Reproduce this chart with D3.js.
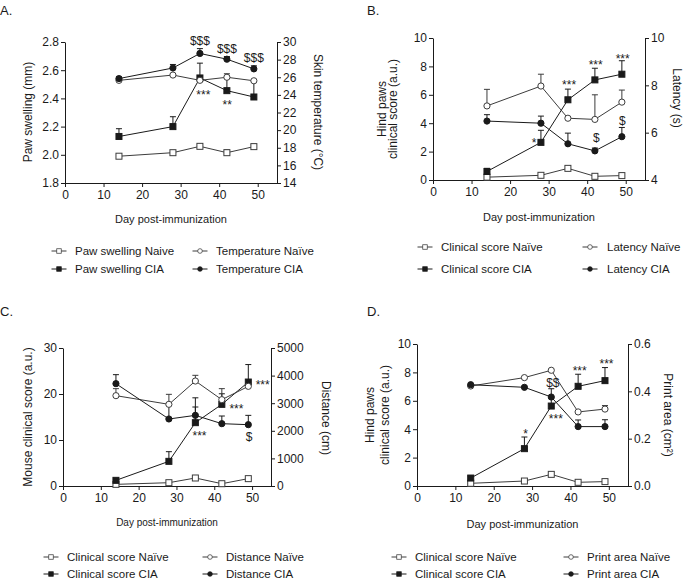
<!DOCTYPE html>
<html>
<head>
<meta charset="utf-8">
<script src="https://cdn.jsdelivr.net/npm/d3@7"></script>
<style>
body { margin: 0; background: #fff; }
svg text { font-family: "Liberation Sans", Arial, sans-serif; fill: #1a1a1a; }
</style>
</head>
<body>
<svg id="fig" width="685" height="581"></svg>
<script>
// shared
var days = [14, 28, 35, 42, 49];
var dayTicks = [0, 10, 20, 30, 40, 50];

// A. paw swelling (mm, left) and skin temperature (°C, right)
var pawNaive = [1.99, 2.015, 2.06, 2.015, 2.058];
var pawNaiveErr = [0, 0, 0.01, 0.02, 0.016];
var pawCIA = [2.13, 2.20, 2.545, 2.455, 2.41];
var pawCIAErr = [0.055, 0.07, 0.105, 0.09, 0.11];
var tempNaive = [25.65, 26.25, 25.65, 26.0, 25.6];
var tempNaiveErr = [0, 0, 0, 0.4, 0];
var tempCIA = [25.85, 27.05, 28.7, 28.05, 26.95];
var tempCIAErr = [0.2, 0.4, 0.55, 0.3, 0.35];
var pawTicks = [1.8, 2.0, 2.2, 2.4, 2.6, 2.8];
var tempTicks = [14, 16, 18, 20, 22, 24, 26, 28, 30];
var legendA = ["Paw swelling Naive", "Paw swelling CIA", "Temperature Naïve", "Temperature CIA"];

// B. hind paws clinical score (left) and latency (s, right)
var scoreNaiveB = [0.2, 0.33, 0.82, 0.26, 0.31];
var scoreNaiveErrB = [0, 0, 0.15, 0, 0];
var scoreCIAB = [0.6, 2.65, 5.65, 7.05, 7.45];
var scoreCIAErrB = [0.22, 0.85, 0.75, 0.82, 0.95];
var latencyNaive = [7.13, 7.97, 6.61, 6.56, 7.29];
var latencyNaiveErr = [0.7, 0.5, 0, 1.04, 0.51];
var latencyCIA = [6.49, 6.4, 5.53, 5.23, 5.83];
var latencyCIAErr = [0.27, 0.3, 0.45, 0.12, 0.39];
var scoreTicksB = [0, 2, 4, 6, 8, 10];
var latencyTicks = [4, 6, 8, 10];
var legendB = ["Clinical score Naïve", "Clinical score CIA", "Latency Naïve", "Latency CIA"];

// C. mouse clinical score (left) and distance (cm, right)
var scoreNaiveC = [0.36, 0.72, 1.74, 0.5, 1.6];
var scoreNaiveErrC = [0, 0, 0.2, 0, 0];
var scoreCIAC = [1.23, 5.36, 13.77, 17.75, 22.6];
var scoreCIAErrC = [0.3, 2.1, 5.4, 2.3, 3.8];
var distanceNaive = [3273, 2959, 3804, 3128, 3611];
var distanceNaiveErr = [254, 362, 206, 399, 0];
var distanceCIA = [3708, 2428, 2560, 2258, 2222];
var distanceCIAErr = [326, 500, 302, 278, 338];
var scoreTicksC = [0, 10, 20, 30];
var distanceTicks = [0, 1000, 2000, 3000, 4000, 5000];
var legendC = ["Clinical score Naïve", "Clinical score CIA", "Distance Naïve", "Distance CIA"];

// D. hind paws clinical score (left) and print area (cm², right)
var scoreNaiveD = [0.19, 0.35, 0.82, 0.26, 0.31];
var scoreNaiveErrD = [0, 0, 0.15, 0, 0];
var scoreCIAD = [0.56, 2.63, 5.63, 7.02, 7.42];
var scoreCIAErrD = [0.14, 0.82, 0.55, 0.85, 0.92];
var areaNaive = [0.4225, 0.458, 0.489, 0.313, 0.325];
var areaNaiveErr = [0, 0, 0, 0, 0.015];
var areaCIA = [0.428, 0.417, 0.376, 0.251, 0.251];
var areaCIAErr = [0, 0, 0.035, 0.028, 0.029];
var scoreTicksD = [0, 2, 4, 6, 8, 10];
var areaTicks = [0.0, 0.2, 0.4, 0.6];
var legendD = ["Clinical score Naïve", "Clinical score CIA", "Print area Naïve", "Print area CIA"];

var svg = d3.select("#fig");
var ink = "#1a1a1a", grey = "#3c3c3c";

function marker(sel, shape, filled, color) {
    if (shape == "square") {
        sel.append("rect").attr("x", -3).attr("y", -3).attr("width", 6).attr("height", 6);
    } else {
        sel.append("circle").attr("r", 3.1);
    }
    sel.selectAll("rect,circle")
        .attr("fill", filled ? color : "#fff")
        .attr("stroke", color)
        .attr("stroke-width", 1);
}

function panel(p) {
    var g = svg.append("g");
    var x = d3.scaleLinear().domain([0, 55]).range(p.xr);
    var yL = d3.scaleLinear().domain(p.left.domain).range(p.yr);
    var yR = d3.scaleLinear().domain(p.right.domain).range(p.yr);

    g.append("text").attr("x", p.title[1]).attr("y", p.title[2])
        .attr("font-size", 13).text(p.title[0]);

    // axes
    var ax = g.append("g").attr("transform", "translate(0," + p.yr[0] + ")")
        .call(d3.axisBottom(x).tickValues(dayTicks).tickSize(4).tickPadding(3).tickSizeOuter(0));
    var al = g.append("g").attr("transform", "translate(" + p.xr[0] + ",0)")
        .call(d3.axisLeft(yL).tickValues(p.left.ticks).tickFormat(d3.format(p.left.fmt))
            .tickSize(4).tickPadding(2).tickSizeOuter(0));
    var ar = g.append("g").attr("transform", "translate(" + p.xr[1] + ",0)")
        .call(d3.axisRight(yR).tickValues(p.right.ticks).tickFormat(d3.format(p.right.fmt))
            .tickSize(4).tickPadding(2).tickSizeOuter(0));
    [ax, al, ar].forEach(function(a) {
        a.selectAll("text").attr("font-size", 12).attr("font-family", null).attr("fill", ink);
        a.selectAll("path,line").attr("stroke", ink);
    });

    // axis titles
    g.append("text").attr("x", (p.xr[0] + p.xr[1]) / 2).attr("y", p.xTitleY)
        .attr("text-anchor", "middle").attr("font-size", p.xTitleSize || 11)
        .text("Day post-immunization");
    p.left.title.forEach(function(t) {
        g.append("text").attr("transform", "translate(" + t[1] + "," + p.left.titleY + ") rotate(-90)")
            .attr("text-anchor", "middle").attr("dy", "0.35em").attr("font-size", 12).text(t[0]);
    });
    g.append("text").attr("transform", "translate(" + p.right.title[1] + "," + p.right.titleY + ") rotate(90)")
        .attr("text-anchor", "middle").attr("dy", "0.35em").attr("font-size", 12).text(p.right.title[0]);

    // series
    var series = p.series.map(function(s) {
        var y = s.axis == "L" ? yL : yR;
        return { s: s, y: y, color: s.filled ? ink : grey };
    });
    var line = function(y) {
        return d3.line().x(function(d, i) { return x(days[i]); }).y(function(d) { return y(d); });
    };
    series.forEach(function(o) {
        g.append("path").datum(o.s.vals).attr("d", line(o.y))
            .attr("fill", "none").attr("stroke", o.color).attr("stroke-width", 1);
    });
    series.forEach(function(o) {
        o.s.vals.forEach(function(v, i) {
            if (!o.s.err[i]) return;
            var cx = x(days[i]), y0 = o.y(v), y1 = o.y(v + o.s.err[i]);
            g.append("line").attr("x1", cx).attr("x2", cx).attr("y1", y0).attr("y2", y1)
                .attr("stroke", o.color);
            g.append("line").attr("x1", cx - 3).attr("x2", cx + 3).attr("y1", y1).attr("y2", y1)
                .attr("stroke", o.color);
        });
    });
    series.forEach(function(o) {
        g.selectAll(null).data(o.s.vals).enter().append("g")
            .attr("transform", function(d, i) { return "translate(" + x(days[i]) + "," + o.y(d) + ")"; })
            .each(function() { marker(d3.select(this), o.s.shape, o.s.filled, o.color); });
    });

    // significance marks
    p.notes.forEach(function(n) {
        var y = n.axis == "L" ? yL : yR;
        g.append("text").attr("x", x(n.day)).attr("y", y(n.v))
            .attr("text-anchor", "middle").attr("font-size", 12).text(n.t);
    });

    // legend
    var L = p.legend;
    [0, 1, 2, 3].forEach(function(k) {
        var s = p.series[k];
        var col = k < 2 ? 0 : 1, row = k % 2;
        var mx = L.mx[col], my = L.rows[row];
        var color = s.filled ? ink : grey;
        var lg = g.append("g").attr("transform", "translate(" + mx + "," + my + ")");
        lg.append("line").attr("x1", -7.5).attr("x2", 7.5).attr("stroke", color);
        var mk = lg.append("g").attr("transform", "scale(0.75)");
        marker(mk, s.shape, s.filled, color);
        g.append("text").attr("x", L.tx[col]).attr("y", my).attr("dy", "0.36em")
            .attr("font-size", 11.5).text(L.labels[k]);
    });
}

panel({
    title: ["A.", 0, 15],
    xr: [65, 277], yr: [183, 42],
    xTitleY: 223,
    left: { domain: [1.8, 2.8], ticks: pawTicks, fmt: ".1f", title: [["Paw swelling (mm)", 27.5]], titleY: 112 },
    right: { domain: [14, 30], ticks: tempTicks, fmt: "d", title: ["Skin temperature (°C)", 318.5], titleY: 112 },
    series: [
        { vals: pawNaive, err: pawNaiveErr, axis: "L", shape: "square", filled: false },
        { vals: pawCIA, err: pawCIAErr, axis: "L", shape: "square", filled: true },
        { vals: tempNaive, err: tempNaiveErr, axis: "R", shape: "circle", filled: false },
        { vals: tempCIA, err: tempCIAErr, axis: "R", shape: "circle", filled: true }
    ],
    notes: [
        { day: 35, v: 29.7, axis: "R", t: "$$$" },
        { day: 42, v: 28.79, axis: "R", t: "$$$" },
        { day: 49, v: 27.76, axis: "R", t: "$$$" },
        { day: 35.9, v: 2.393, axis: "L", t: "***" },
        { day: 42.1, v: 2.326, axis: "L", t: "**" }
    ],
    legend: { mx: [59, 200], tx: [75, 216], rows: [251, 269], labels: legendA }
});

panel({
    title: ["B.", 367, 15],
    xr: [433, 645], yr: [180, 38],
    xTitleY: 221,
    left: { domain: [0, 10], ticks: scoreTicksB, fmt: "d", title: [["Hind paws", 381.5], ["clinical score (a.u.)", 393]], titleY: 109 },
    right: { domain: [4, 10], ticks: latencyTicks, fmt: "d", title: ["Latency (s)", 677.5], titleY: 98 },
    series: [
        { vals: scoreNaiveB, err: scoreNaiveErrB, axis: "L", shape: "square", filled: false },
        { vals: scoreCIAB, err: scoreCIAErrB, axis: "L", shape: "square", filled: true },
        { vals: latencyNaive, err: latencyNaiveErr, axis: "R", shape: "circle", filled: false },
        { vals: latencyCIA, err: latencyCIAErr, axis: "R", shape: "circle", filled: true }
    ],
    notes: [
        { day: 26.2, v: 2.33, axis: "L", t: "*" },
        { day: 35.3, v: 6.44, axis: "L", t: "***" },
        { day: 42.2, v: 7.81, axis: "L", t: "***" },
        { day: 49.2, v: 8.26, axis: "L", t: "***" },
        { day: 42.4, v: 2.68, axis: "L", t: "$" },
        { day: 49.1, v: 3.88, axis: "L", t: "$" }
    ],
    legend: { mx: [425, 590], tx: [441, 607], rows: [247, 269], labels: legendB }
});

panel({
    title: ["C.", 0, 316],
    xr: [63, 271], yr: [486, 348],
    xTitleY: 526, xTitleSize: 10,
    left: { domain: [0, 30], ticks: scoreTicksC, fmt: "d", title: [["Mouse clinical score (a.u.)", 28]], titleY: 417 },
    right: { domain: [0, 5000], ticks: distanceTicks, fmt: "d", title: ["Distance (cm)", 326], titleY: 418 },
    series: [
        { vals: scoreNaiveC, err: scoreNaiveErrC, axis: "L", shape: "square", filled: false },
        { vals: scoreCIAC, err: scoreCIAErrC, axis: "L", shape: "square", filled: true },
        { vals: distanceNaive, err: distanceNaiveErr, axis: "R", shape: "circle", filled: false },
        { vals: distanceCIA, err: distanceCIAErr, axis: "R", shape: "circle", filled: true }
    ],
    notes: [
        { day: 52.8, v: 21.1, axis: "L", t: "***" },
        { day: 45.85, v: 15.87, axis: "L", t: "***" },
        { day: 36.1, v: 10.0, axis: "L", t: "***" },
        { day: 49.2, v: 9.7, axis: "L", t: "$" }
    ],
    legend: { mx: [51, 210], tx: [67, 226], rows: [557, 574], labels: legendC }
});

panel({
    title: ["D.", 367, 316],
    xr: [417, 628], yr: [486, 344],
    xTitleY: 528,
    left: { domain: [0, 10], ticks: scoreTicksD, fmt: "d", title: [["Hind paws", 370], ["clinical score (a.u.)", 384.5]], titleY: 415 },
    right: { domain: [0, 0.6], ticks: areaTicks, fmt: ".1f", title: ["Print area (cm²)", 668], titleY: 415 },
    series: [
        { vals: scoreNaiveD, err: scoreNaiveErrD, axis: "L", shape: "square", filled: false },
        { vals: scoreCIAD, err: scoreCIAErrD, axis: "L", shape: "square", filled: true },
        { vals: areaNaive, err: areaNaiveErr, axis: "R", shape: "circle", filled: false },
        { vals: areaCIA, err: areaCIAErr, axis: "R", shape: "circle", filled: true }
    ],
    notes: [
        { day: 28.3, v: 3.38, axis: "L", t: "*" },
        { day: 35.4, v: 6.95, axis: "L", t: "$$" },
        { day: 36.2, v: 4.42, axis: "L", t: "***" },
        { day: 42.4, v: 7.85, axis: "L", t: "***" },
        { day: 49.4, v: 8.31, axis: "L", t: "***" }
    ],
    legend: { mx: [399, 571], tx: [415, 587], rows: [557, 574], labels: legendD }
});
</script>
</body>
</html>
